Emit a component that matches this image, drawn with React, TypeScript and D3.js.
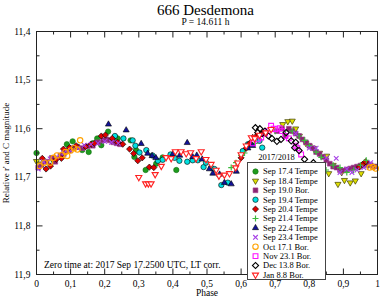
import React from "react";
import * as d3 from "d3";

// axis ticks (comma decimals as in the original)
const phaseTicks = [0, 0.1, 0.2, 0.3, 0.4, 0.5, 0.6, 0.7, 0.8, 0.9, 1];
const phaseTickLabels = ["0", "0,1", "0,2", "0,3", "0,4", "0,5", "0,6", "0,7", "0,8", "0,9", "1"];
const magTicks = [11.4, 11.5, 11.6, 11.7, 11.8, 11.9];
const magTickLabels = ["11,4", "11,5", "11,6", "11,7", "11,8", "11,9"];

const legendTitle = "2017/2018";
const seriesNames = [
  "Sep 17.4 Tempe", "Sep 18.4 Tempe", "Sep 19.0 Bor.", "Sep 19.4 Tempe",
  "Sep 20.4 Tempe", "Sep 21.4 Tempe", "Sep 22.4 Tempe", "Sep 23.4 Tempe",
  "Oct 17.1 Bor.", "Nov 23.1 Bor.", "Dec 13.8 Bor.", "Jan 8.8 Bor.",
];

// [phase, magnitude]
const sep17 = [
  [0.0, 11.65], [0.05, 11.665], [0.089, 11.632], [0.106, 11.626], [0.12, 11.637], [0.134, 11.644],
  [0.153, 11.648], [0.165, 11.63], [0.178, 11.62], [0.19, 11.634], [0.21, 11.606], [0.225, 11.622],
  [0.235, 11.62], [0.238, 11.62], [0.276, 11.624], [0.287, 11.658], [0.292, 11.644], [0.32, 11.685],
  [0.351, 11.672], [0.37, 11.659], [0.41, 11.685], [0.967, 11.67],
];
const sep18 = [
  [0.0, 11.667], [0.012, 11.672], [0.722, 11.591], [0.737, 11.585], [0.75, 11.584], [0.76, 11.6],
  [0.771, 11.615], [0.79, 11.63], [0.8, 11.635], [0.812, 11.64], [0.83, 11.65], [0.851, 11.656],
  [0.857, 11.692], [0.87, 11.675], [0.884, 11.714], [0.895, 11.69], [0.903, 11.706], [0.92, 11.711],
  [0.935, 11.707], [0.952, 11.692], [0.972, 11.675], [0.991, 11.677],
];
const sep19b = [
  [0.005, 11.68], [0.015, 11.675], [0.03, 11.668], [0.045, 11.66], [0.055, 11.668], [0.07, 11.655],
  [0.08, 11.652], [0.095, 11.645], [0.105, 11.64], [0.12, 11.638], [0.135, 11.64], [0.15, 11.636],
  [0.165, 11.635], [0.18, 11.628], [0.195, 11.624], [0.205, 11.622], [0.215, 11.624], [0.225, 11.628],
  [0.235, 11.63], [0.245, 11.632], [0.705, 11.605], [0.72, 11.6], [0.73, 11.615], [0.74, 11.6],
  [0.75, 11.605], [0.76, 11.61], [0.77, 11.615], [0.78, 11.622], [0.79, 11.628], [0.8, 11.635],
  [0.81, 11.64], [0.82, 11.648], [0.83, 11.652], [0.84, 11.658], [0.85, 11.665], [0.86, 11.672],
  [0.87, 11.678], [0.88, 11.68], [0.89, 11.685], [0.9, 11.686], [0.91, 11.684], [0.92, 11.682],
  [0.93, 11.68], [0.94, 11.678], [0.95, 11.676], [0.96, 11.675], [0.97, 11.672], [0.98, 11.675],
  [0.99, 11.678],
];
const sep19t = [
  [0.23, 11.615], [0.255, 11.62], [0.282, 11.624], [0.29, 11.635], [0.302, 11.649], [0.322, 11.644],
  [0.34, 11.655], [0.356, 11.666], [0.37, 11.664], [0.393, 11.653], [0.405, 11.66], [0.419, 11.666],
  [0.442, 11.668], [0.458, 11.665], [0.473, 11.665], [0.49, 11.679], [0.497, 11.67], [0.512, 11.68],
  [0.522, 11.683], [0.542, 11.716], [0.561, 11.711], [0.605, 11.646], [0.62, 11.632], [0.654, 11.625],
  [0.662, 11.639],
];
const sep20 = [
  [0.017, 11.661], [0.028, 11.683], [0.041, 11.677], [0.058, 11.663], [0.073, 11.661], [0.079, 11.642],
  [0.097, 11.639], [0.116, 11.635], [0.144, 11.637], [0.16, 11.632], [0.17, 11.63], [0.19, 11.615],
  [0.202, 11.613], [0.222, 11.62], [0.238, 11.628], [0.253, 11.632], [0.273, 11.642], [0.285, 11.651],
  [0.297, 11.666], [0.31, 11.66], [0.331, 11.679], [0.344, 11.68], [0.6, 11.66], [0.615, 11.64],
  [0.625, 11.63], [0.634, 11.618], [0.645, 11.615], [0.66, 11.61], [0.947, 11.679], [0.957, 11.673],
  [0.965, 11.668],
];
const sep21 = [
  [0.571, 11.68], [0.585, 11.67], [0.6, 11.655], [0.61, 11.65], [0.64, 11.63], [0.67, 11.61],
  [0.7, 11.605], [0.73, 11.61], [0.75, 11.605], [0.77, 11.615], [0.786, 11.624], [0.8, 11.635],
  [0.82, 11.648], [0.835, 11.659], [0.849, 11.685], [0.87, 11.675], [0.89, 11.68], [0.91, 11.69],
  [0.93, 11.685], [0.95, 11.675], [0.967, 11.665],
];
const sep22 = [
  [0.211, 11.591], [0.263, 11.603], [0.307, 11.631], [0.326, 11.651], [0.339, 11.656], [0.35, 11.66],
  [0.4, 11.652], [0.42, 11.655], [0.442, 11.629], [0.458, 11.658], [0.47, 11.655], [0.486, 11.663],
  [0.507, 11.683], [0.517, 11.692], [0.537, 11.694], [0.551, 11.711], [0.571, 11.714], [0.586, 11.688],
  [0.62, 11.64], [0.634, 11.635],
];
const sep23 = [
  [0.005, 11.683], [0.02, 11.668], [0.04, 11.662], [0.06, 11.658], [0.08, 11.65], [0.1, 11.645],
  [0.12, 11.64], [0.14, 11.634], [0.16, 11.632], [0.18, 11.63], [0.2, 11.626], [0.22, 11.628],
  [0.24, 11.63], [0.76, 11.61], [0.8, 11.64], [0.82, 11.64], [0.85, 11.66], [0.879, 11.661],
  [0.89, 11.69], [0.91, 11.683], [0.925, 11.69], [0.94, 11.685], [0.96, 11.68], [0.98, 11.67],
];
const oct17 = [
  [0.009, 11.677], [0.023, 11.67], [0.04, 11.67], [0.05, 11.66], [0.06, 11.655], [0.075, 11.654],
  [0.085, 11.648], [0.09, 11.656], [0.1, 11.645], [0.11, 11.64], [0.12, 11.643], [0.128, 11.624],
  [0.977, 11.68], [0.986, 11.679], [0.995, 11.682],
];
const nov23 = [
  [0.635, 11.63], [0.65, 11.622], [0.659, 11.618], [0.67, 11.61], [0.678, 11.605], [0.688, 11.594],
  [0.695, 11.6], [0.701, 11.601], [0.713, 11.599], [0.72, 11.605], [0.73, 11.615], [0.74, 11.62],
  [0.76, 11.635], [0.765, 11.64], [0.776, 11.653],
];
const dec13 = [
  [0.642, 11.598], [0.649, 11.608], [0.655, 11.6], [0.662, 11.61], [0.67, 11.605], [0.68, 11.615],
  [0.69, 11.62], [0.705, 11.626], [0.717, 11.622], [0.732, 11.608], [0.747, 11.625], [0.757, 11.639],
  [0.76, 11.628], [0.77, 11.645], [0.786, 11.663], [0.812, 11.67],
];
const jan8 = [
  [0.3, 11.7], [0.32, 11.713], [0.328, 11.713], [0.336, 11.713], [0.348, 11.694], [0.366, 11.677],
  [0.38, 11.659], [0.395, 11.661], [0.407, 11.647], [0.424, 11.647], [0.439, 11.651], [0.452, 11.649],
  [0.468, 11.661], [0.483, 11.647], [0.497, 11.663], [0.512, 11.673], [0.527, 11.685], [0.535, 11.697],
  [0.551, 11.695], [0.566, 11.692], [0.584, 11.68], [0.59, 11.67], [0.6, 11.653], [0.615, 11.635],
  [0.63, 11.618], [0.64, 11.62], [0.654, 11.613], [0.672, 11.608], [0.688, 11.601],
];

const seriesData = [sep17, sep18, sep19b, sep19t, sep20, sep21, sep22, sep23, oct17, nov23, dec13, jan8];
const seriesKinds = ["circle", "triDown", "square", "circle", "diamond", "plus", "triUp", "x", "circle", "square", "diamond", "triDown"];
const seriesFill = ["#1e9b1e", "#e0e000", "#8b2470", "#00e0e0", "#e00000", "none", "#12129a", "none", "none", "none", "none", "#ffffff"];
const seriesStroke = ["#137013", "#3c3c00", "#a03a90", "#000000", "#000000", "#3cba3c", "#000000", "#a640e6", "#ffa200", "#ff10ff", "#000000", "#ff2020"];

const triPath = d3.symbol(d3.symbolTriangle, 16)();
const squarePath = d3.symbol(d3.symbolSquare, 23)();
const diamondPath = d3.symbol(d3.symbolSquare, 19)();

const Marker = ({ kind, cx, cy, fill, stroke }) => {
  const t = `translate(${cx},${cy})`;
  if (kind === "circle")
    return <circle cx={cx} cy={cy} r={2.7} fill={fill === "none" ? "#fff" : fill} fillOpacity={fill === "none" ? 0 : 1} stroke={stroke} strokeWidth={fill === "none" ? 1.1 : 0.6} />;
  if (kind === "triDown")
    return <path d={triPath} transform={`${t} rotate(180)`} fill={fill} stroke={stroke} strokeWidth={fill === "#ffffff" ? 1.1 : 0.7} />;
  if (kind === "triUp")
    return <path d={triPath} transform={t} fill={fill} stroke={stroke} strokeWidth={0.6} />;
  if (kind === "square")
    return <path d={squarePath} transform={t} fill={fill} stroke={stroke} strokeWidth={fill === "none" ? 1.1 : 0.6} />;
  if (kind === "diamond")
    return <path d={diamondPath} transform={`${t} rotate(45)`} fill={fill} stroke={stroke} strokeWidth={fill === "none" ? 1.1 : 0.6} />;
  if (kind === "plus")
    return <path d="M-3,0H3M0,-3V3" transform={t} stroke={stroke} strokeWidth={1.2} fill="none" />;
  return <path d="M-2.3,-2.3L2.3,2.3M-2.3,2.3L2.3,-2.3" transform={t} stroke={stroke} strokeWidth={1.1} fill="none" />;
};

const App = () => {
  const width = 382;
  const height = 298;
  const x = d3.scaleLinear().domain([0, 1]).range([36.5, 377.5]);
  const y = d3.scaleLinear().domain([11.4, 11.9]).range([31.5, 274.5]);
  const [x0, x1] = x.range();
  const [y0, y1] = y.range();
  const serif = "'Liberation Serif', 'Times New Roman', serif";
  const axisColor = "#222";

  const xMinor = x.ticks(20);
  const yMinor = y.ticks(10);

  const legendX = 247.5;
  const legendY = 162.5;
  const rowH = 9.4;

  return (
    <svg width={width} height={height} style={{ position: "absolute", left: 0, top: 0, background: "#fff" }} fontFamily={serif}>
      <text x={205.5} y={15} textAnchor="middle" fontSize={15}>666 Desdemona</text>
      <text x={205.5} y={25} textAnchor="middle" fontSize={9.5}>P = 14.611 h</text>

      {/* data */}
      {seriesData.map((pts, i) => (
        <g key={`series-${i}`}>
          {pts.map((p, j) => (
            <Marker key={`pt-${i}-${j}`} kind={seriesKinds[i]} cx={x(p[0])} cy={y(p[1])} fill={seriesFill[i]} stroke={seriesStroke[i]} />
          ))}
        </g>
      ))}

      {/* frame + ticks */}
      <rect x={x0} y={y0} width={x1 - x0} height={y1 - y0} fill="none" stroke={axisColor} strokeWidth={1} />
      {xMinor.map((v, i) => {
        const len = i % 2 === 0 ? 6 : 3;
        return (
          <g key={`xt-${i}`} stroke={axisColor}>
            <line x1={x(v)} x2={x(v)} y1={y1} y2={y1 - len} />
            <line x1={x(v)} x2={x(v)} y1={y0} y2={y0 + len} />
          </g>
        );
      })}
      {yMinor.map((v, i) => {
        const len = i % 2 === 0 ? 6 : 3;
        return (
          <g key={`yt-${i}`} stroke={axisColor}>
            <line x1={x0} x2={x0 + len} y1={y(v)} y2={y(v)} />
            <line x1={x1} x2={x1 - len} y1={y(v)} y2={y(v)} />
          </g>
        );
      })}
      {phaseTicks.map((v, i) => (
        <text key={`xl-${i}`} x={x(v)} y={286.5} textAnchor="middle" fontSize={9.5}>{phaseTickLabels[i]}</text>
      ))}
      {magTicks.map((v, i) => (
        <text key={`yl-${i}`} x={30.5} y={y(v)} dy="0.32em" textAnchor="end" fontSize={9.5}>{magTickLabels[i]}</text>
      ))}
      <text x={(x0 + x1) / 2} y={296} textAnchor="middle" fontSize={9.5}>Phase</text>
      <text transform={`translate(8.5,${(y0 + y1) / 2}) rotate(-90)`} textAnchor="middle" fontSize={9}>
        Relative r' and C magnitude
      </text>
      <text x={44} y={268} fontSize={9.5}>Zero time at: 2017 Sep 17.2500 UTC, LT corr.</text>

      {/* legend */}
      <text x={276.5} y={160} textAnchor="middle" fontSize={8.5}>{legendTitle}</text>
      <rect x={legendX} y={legendY} width={78} height={117} fill="#fff" stroke="#444" strokeWidth={1} />
      {seriesNames.map((name, i) => {
        const cy = legendY + 9 + i * rowH;
        return (
          <g key={`lg-${i}`}>
            <Marker kind={seriesKinds[i]} cx={legendX + 8} cy={cy} fill={seriesFill[i]} stroke={seriesStroke[i]} />
            <text x={legendX + 15.5} y={cy} dy="0.33em" fontSize={8.5}>{name}</text>
          </g>
        );
      })}
    </svg>
  );
};

export default App;
